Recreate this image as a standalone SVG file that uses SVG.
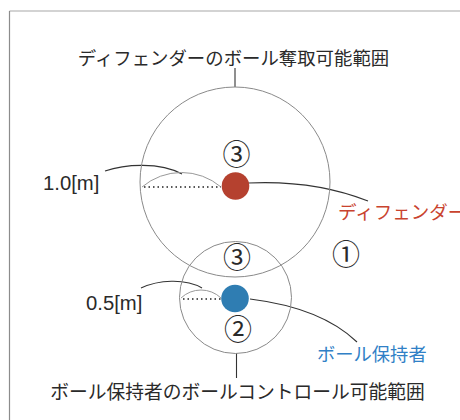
<svg xmlns="http://www.w3.org/2000/svg" width="460" height="420" viewBox="0 0 460 420">
<style>
.jp{font-family:"Noto Sans CJK JP","Noto Sans",sans-serif;fill:#2a2a2a}
.num{font-family:"Liberation Sans",Arial,sans-serif;fill:#2a2a2a;font-size:20.3px}
.circ{font-family:"Noto Sans CJK JP",sans-serif;fill:#2a2a2a;font-size:28px;text-anchor:middle}
.ring{fill:none;stroke:#8a8a8a;stroke-width:1}
.lead{fill:none;stroke:#333;stroke-width:1.1}
.arc{fill:none;stroke:#999;stroke-width:1}
.dot{fill:none;stroke:#222;stroke-width:1.3;stroke-dasharray:1.5 3}
</style>
<rect width="460" height="420" fill="#fff"/>
<g id="frame">
<line x1="9.5" y1="11" x2="460" y2="11" stroke="#c4c4c4" stroke-width="1.5"/>
<line x1="9.5" y1="11" x2="9.5" y2="420" stroke="#8c8c8c" stroke-width="1.2"/>
</g>
<g id="connectors">
<line x1="235" y1="68" x2="235" y2="87" class="lead" stroke="#555"/>
<line x1="236.5" y1="353" x2="236.5" y2="378" class="lead" stroke="#555"/>
<path class="lead" d="M105,171 C125,164 160,162 182,174"/>
<path class="lead" d="M141,288 C158,280 185,278 202,288"/>
<path class="lead" d="M248,183 C290,181 330,186 368,201"/>
<path class="lead" d="M250,299 C290,304 330,316 357,342"/>
<path class="arc" d="M142,187 A61,61 0 0 1 221,187"/>
<path class="arc" d="M181,298 A29,29 0 0 1 221,298"/>
<line class="dot" x1="144" y1="187" x2="221" y2="187"/>
<line class="dot" x1="183" y1="299" x2="221" y2="299"/>
</g>
<g id="defender-range">
<circle class="ring" cx="235" cy="182" r="95"/>
<text class="jp" x="233.5" y="65" font-size="18.4" text-anchor="middle">ディフェンダーのボール奪取可能範囲</text>
</g>
<g id="holder-range">
<circle class="ring" cx="235.5" cy="297.5" r="56"/>
<text class="jp" x="237.5" y="398.5" font-size="18.75" text-anchor="middle">ボール保持者のボールコントロール可能範囲</text>
</g>
<g id="defender">
<circle cx="235.5" cy="186" r="13.8" fill="#b5412f"/>
<text class="jp" x="338" y="218.5" font-size="18.5" style="fill:#c9432e">ディフェンダー</text>
</g>
<g id="holder">
<circle cx="235" cy="298.5" r="13.8" fill="#2f7db2"/>
<text class="jp" x="317" y="360.5" font-size="18.3" style="fill:#3080c6">ボール保持者</text>
</g>
<g id="labels">
<text class="num" x="43" y="189.5">1.0[m]</text>
<text class="num" x="86" y="310">0.5[m]</text>
<text class="circ" x="236.5" y="165">③</text>
<text class="circ" x="237" y="268">③</text>
<text class="circ" x="346" y="265">①</text>
<text class="circ" x="238" y="340">②</text>
</g>
</svg>
